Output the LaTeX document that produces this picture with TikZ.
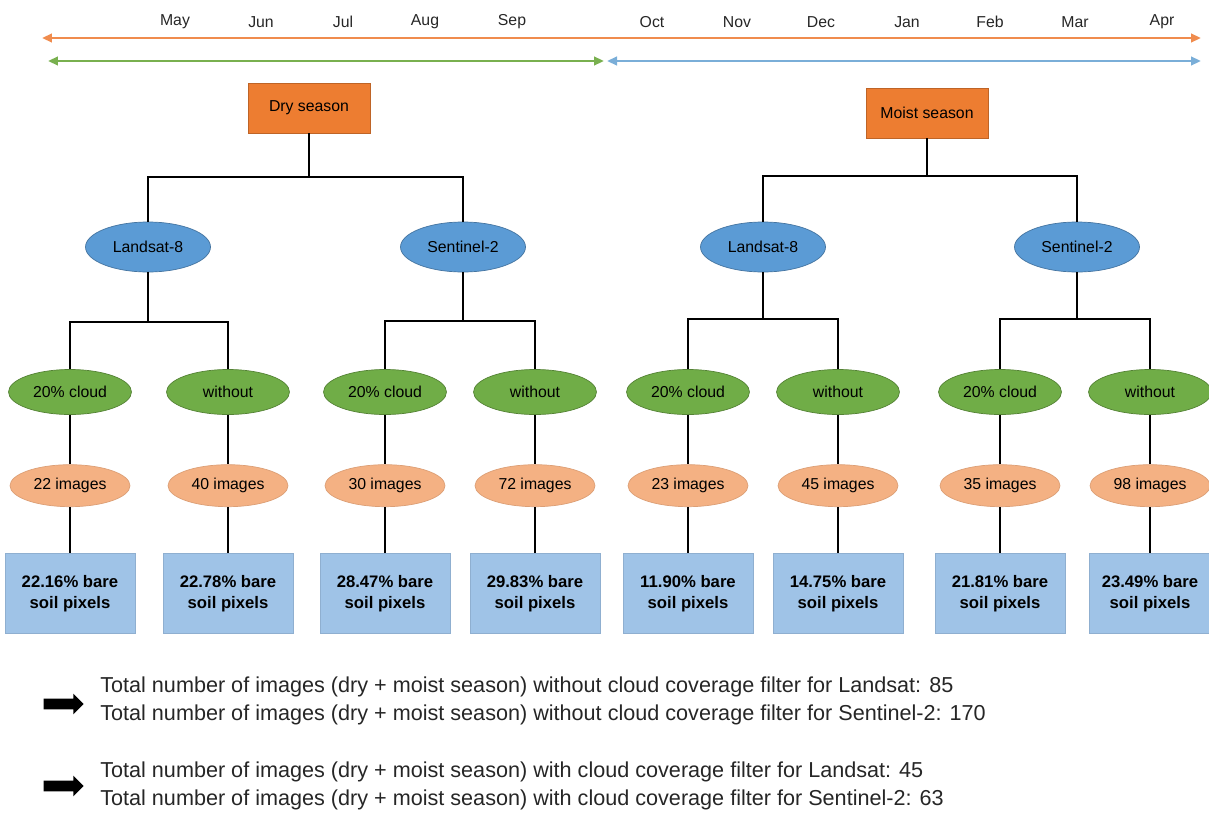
\documentclass[tikz,border=0pt]{standalone}
\usepackage{fontspec}
\setmainfont{Liberation Sans}
\usetikzlibrary{arrows.meta,positioning,shapes.geometric,shapes.arrows}

\definecolor{seasonorange}{HTML}{ED7D31}
\definecolor{sensorblue}{HTML}{5B9BD5}
\definecolor{filtergreen}{HTML}{70AD47}
\definecolor{countsalmon}{HTML}{F4B183}
\definecolor{resultblue}{HTML}{9FC3E7}
\definecolor{lineorange}{HTML}{F08C4E}
\definecolor{linegreen}{HTML}{79B04F}
\definecolor{lineblue}{HTML}{7AAED8}

\begin{document}
\begin{tikzpicture}[x=0.02cm,y=-0.02cm]

\tikzset{season/.style={fill=seasonorange,draw=seasonorange!80!black,inner sep=0pt,minimum width=2.44cm,minimum height=1cm,shape=rectangle,font=\fontsize{9}{11}\selectfont},
sensor/.style={fill=sensorblue,draw=sensorblue!75!black,inner sep=0pt,minimum width=2.5cm,minimum height=1cm,shape=ellipse,font=\fontsize{9}{11}\selectfont},
filter/.style={fill=filtergreen,draw=filtergreen!75!black,inner sep=0pt,minimum width=2.46cm,minimum height=0.9cm,shape=ellipse,font=\fontsize{9}{11}\selectfont},
count/.style={fill=countsalmon,draw=countsalmon!90!black,inner sep=0pt,minimum width=2.4cm,minimum height=0.84cm,shape=ellipse,font=\fontsize{9}{11}\selectfont},
result/.style={fill=resultblue,draw=resultblue!90!black,inner sep=0pt,minimum width=2.6cm,minimum height=1.6cm,shape=rectangle,align=center,font=\bfseries\fontsize{9.5}{12}\selectfont},
month/.style={font=\fontsize{9}{11}\selectfont,text=black!85},
tree/.style={draw=black,line width=1.2pt},
timeline/.style={<->,>={Triangle[length=2mm,width=1.7mm]},line width=1.5pt},
fatarrow/.style={single arrow,fill=black,inner sep=0.1cm,minimum height=0.8cm,single arrow head extend=0.1cm},
note/.style={align=left,anchor=west,inner sep=0pt,font=\fontsize{12.3}{16}\selectfont,text=black!85}}

\useasboundingbox (0,0) rectangle (1209,818);

% Months
\node (may) [month] at (175,22) {May};
\node (jun) [month] at (261,22) {Jun};
\node (jul) [month] at (343,22) {Jul};
\node (aug) [month] at (425,22) {Aug};
\node (sep) [month] at (512,22) {Sep};
\node (oct) [month] at (652,22) {Oct};
\node (nov) [month] at (737,22) {Nov};
\node (dec) [month] at (821,22) {Dec};
\node (jan) [month] at (907,22) {Jan};
\node (feb) [month] at (990,22) {Feb};
\node (mar) [month] at (1075,22) {Mar};
\node (apr) [month] at (1162,22) {Apr};

% Timeline arrows
\coordinate (yearL) at (42,38);
\coordinate (yearR) at (1201,38);
\coordinate (dryL) at (48,61);
\coordinate (dryR) at (604,61);
\coordinate (moistL) at (607,61);
\coordinate (moistR) at (1201,61);
\draw [timeline,lineorange] (yearL) -- (yearR);
\draw [timeline,linegreen] (dryL) -- (dryR);
\draw [timeline,lineblue] (moistL) -- (moistR);

% Seasons
\node (dry) [season] at (309,108) {Dry season};
\node (moist) [season] at (927,113) {Moist season};

% Satellites
\node (dl8) [sensor] at (148,247) {Landsat-8};
\node (ds2) [sensor] at (463,247) {Sentinel-2};
\node (ml8) [sensor] at (763,247) {Landsat-8};
\node (ms2) [sensor] at (1077,247) {Sentinel-2};

% Cloud filters
\node (f1) [filter] at (70,392) {20\% cloud};
\node (f2) [filter] at (228,392) {without};
\node (f3) [filter] at (385,392) {20\% cloud};
\node (f4) [filter] at (535,392) {without};
\node (f5) [filter] at (688,392) {20\% cloud};
\node (f6) [filter] at (838,392) {without};
\node (f7) [filter] at (1000,392) {20\% cloud};
\node (f8) [filter] at (1150,392) {without};

% Image counts
\node (c1) [below=0.99cm of f1,count] {22 images};
\node (c2) [below=0.99cm of f2,count] {40 images};
\node (c3) [below=0.99cm of f3,count] {30 images};
\node (c4) [below=0.99cm of f4,count] {72 images};
\node (c5) [below=0.99cm of f5,count] {23 images};
\node (c6) [below=0.99cm of f6,count] {45 images};
\node (c7) [below=0.99cm of f7,count] {35 images};
\node (c8) [below=0.99cm of f8,count] {98 images};

% Bare soil results
\node (r1) [below=0.92cm of c1,result] {22.16\% bare\\soil pixels};
\node (r2) [below=0.92cm of c2,result] {22.78\% bare\\soil pixels};
\node (r3) [below=0.92cm of c3,result] {28.47\% bare\\soil pixels};
\node (r4) [below=0.92cm of c4,result] {29.83\% bare\\soil pixels};
\node (r5) [below=0.92cm of c5,result] {11.90\% bare\\soil pixels};
\node (r6) [below=0.92cm of c6,result] {14.75\% bare\\soil pixels};
\node (r7) [below=0.92cm of c7,result] {21.81\% bare\\soil pixels};
\node (r8) [below=0.92cm of c8,result,minimum width=2.44cm] {23.49\% bare\\soil pixels};

% Tree branches
\coordinate (drybar) at (309,177);
\coordinate (moistbar) at (927,176);
\coordinate (dl8bar) at (148,322);
\coordinate (ds2bar) at (463,321);
\coordinate (ml8bar) at (763,319);
\coordinate (ms2bar) at (1077,319);
\draw [tree] (dry) -- (drybar) -| (dl8);
\draw [tree] (drybar) -| (ds2);
\draw [tree] (moist) -- (moistbar) -| (ml8);
\draw [tree] (moistbar) -| (ms2);
\draw [tree] (dl8) -- (dl8bar) -| (f1);
\draw [tree] (dl8bar) -| (f2);
\draw [tree] (ds2) -- (ds2bar) -| (f3);
\draw [tree] (ds2bar) -| (f4);
\draw [tree] (ml8) -- (ml8bar) -| (f5);
\draw [tree] (ml8bar) -| (f6);
\draw [tree] (ms2) -- (ms2bar) -| (f7);
\draw [tree] (ms2bar) -| (f8);

% Filters to counts to results
\draw [tree] (f1) -- (c1);
\draw [tree] (f2) -- (c2);
\draw [tree] (f3) -- (c3);
\draw [tree] (f4) -- (c4);
\draw [tree] (f5) -- (c5);
\draw [tree] (f6) -- (c6);
\draw [tree] (f7) -- (c7);
\draw [tree] (f8) -- (c8);
\draw [tree] (c1) -- (r1);
\draw [tree] (c2) -- (r2);
\draw [tree] (c3) -- (r3);
\draw [tree] (c4) -- (r4);
\draw [tree] (c5) -- (r5);
\draw [tree] (c6) -- (r6);
\draw [tree] (c7) -- (r7);
\draw [tree] (c8) -- (r8);

% Totals
\node (a1) [fatarrow] at (61,704) {};
\node (t1) [note] at (100,701) {Total number of images (dry + moist season) without cloud coverage filter for Landsat: 85\\Total number of images (dry + moist season) without cloud coverage filter for Sentinel-2: 170};
\node (a2) [fatarrow] at (61,786) {};
\node (t2) [note] at (100,786) {Total number of images (dry + moist season) with cloud coverage filter for Landsat: 45\\Total number of images (dry + moist season) with cloud coverage filter for Sentinel-2: 63};

\end{tikzpicture}
\end{document}
